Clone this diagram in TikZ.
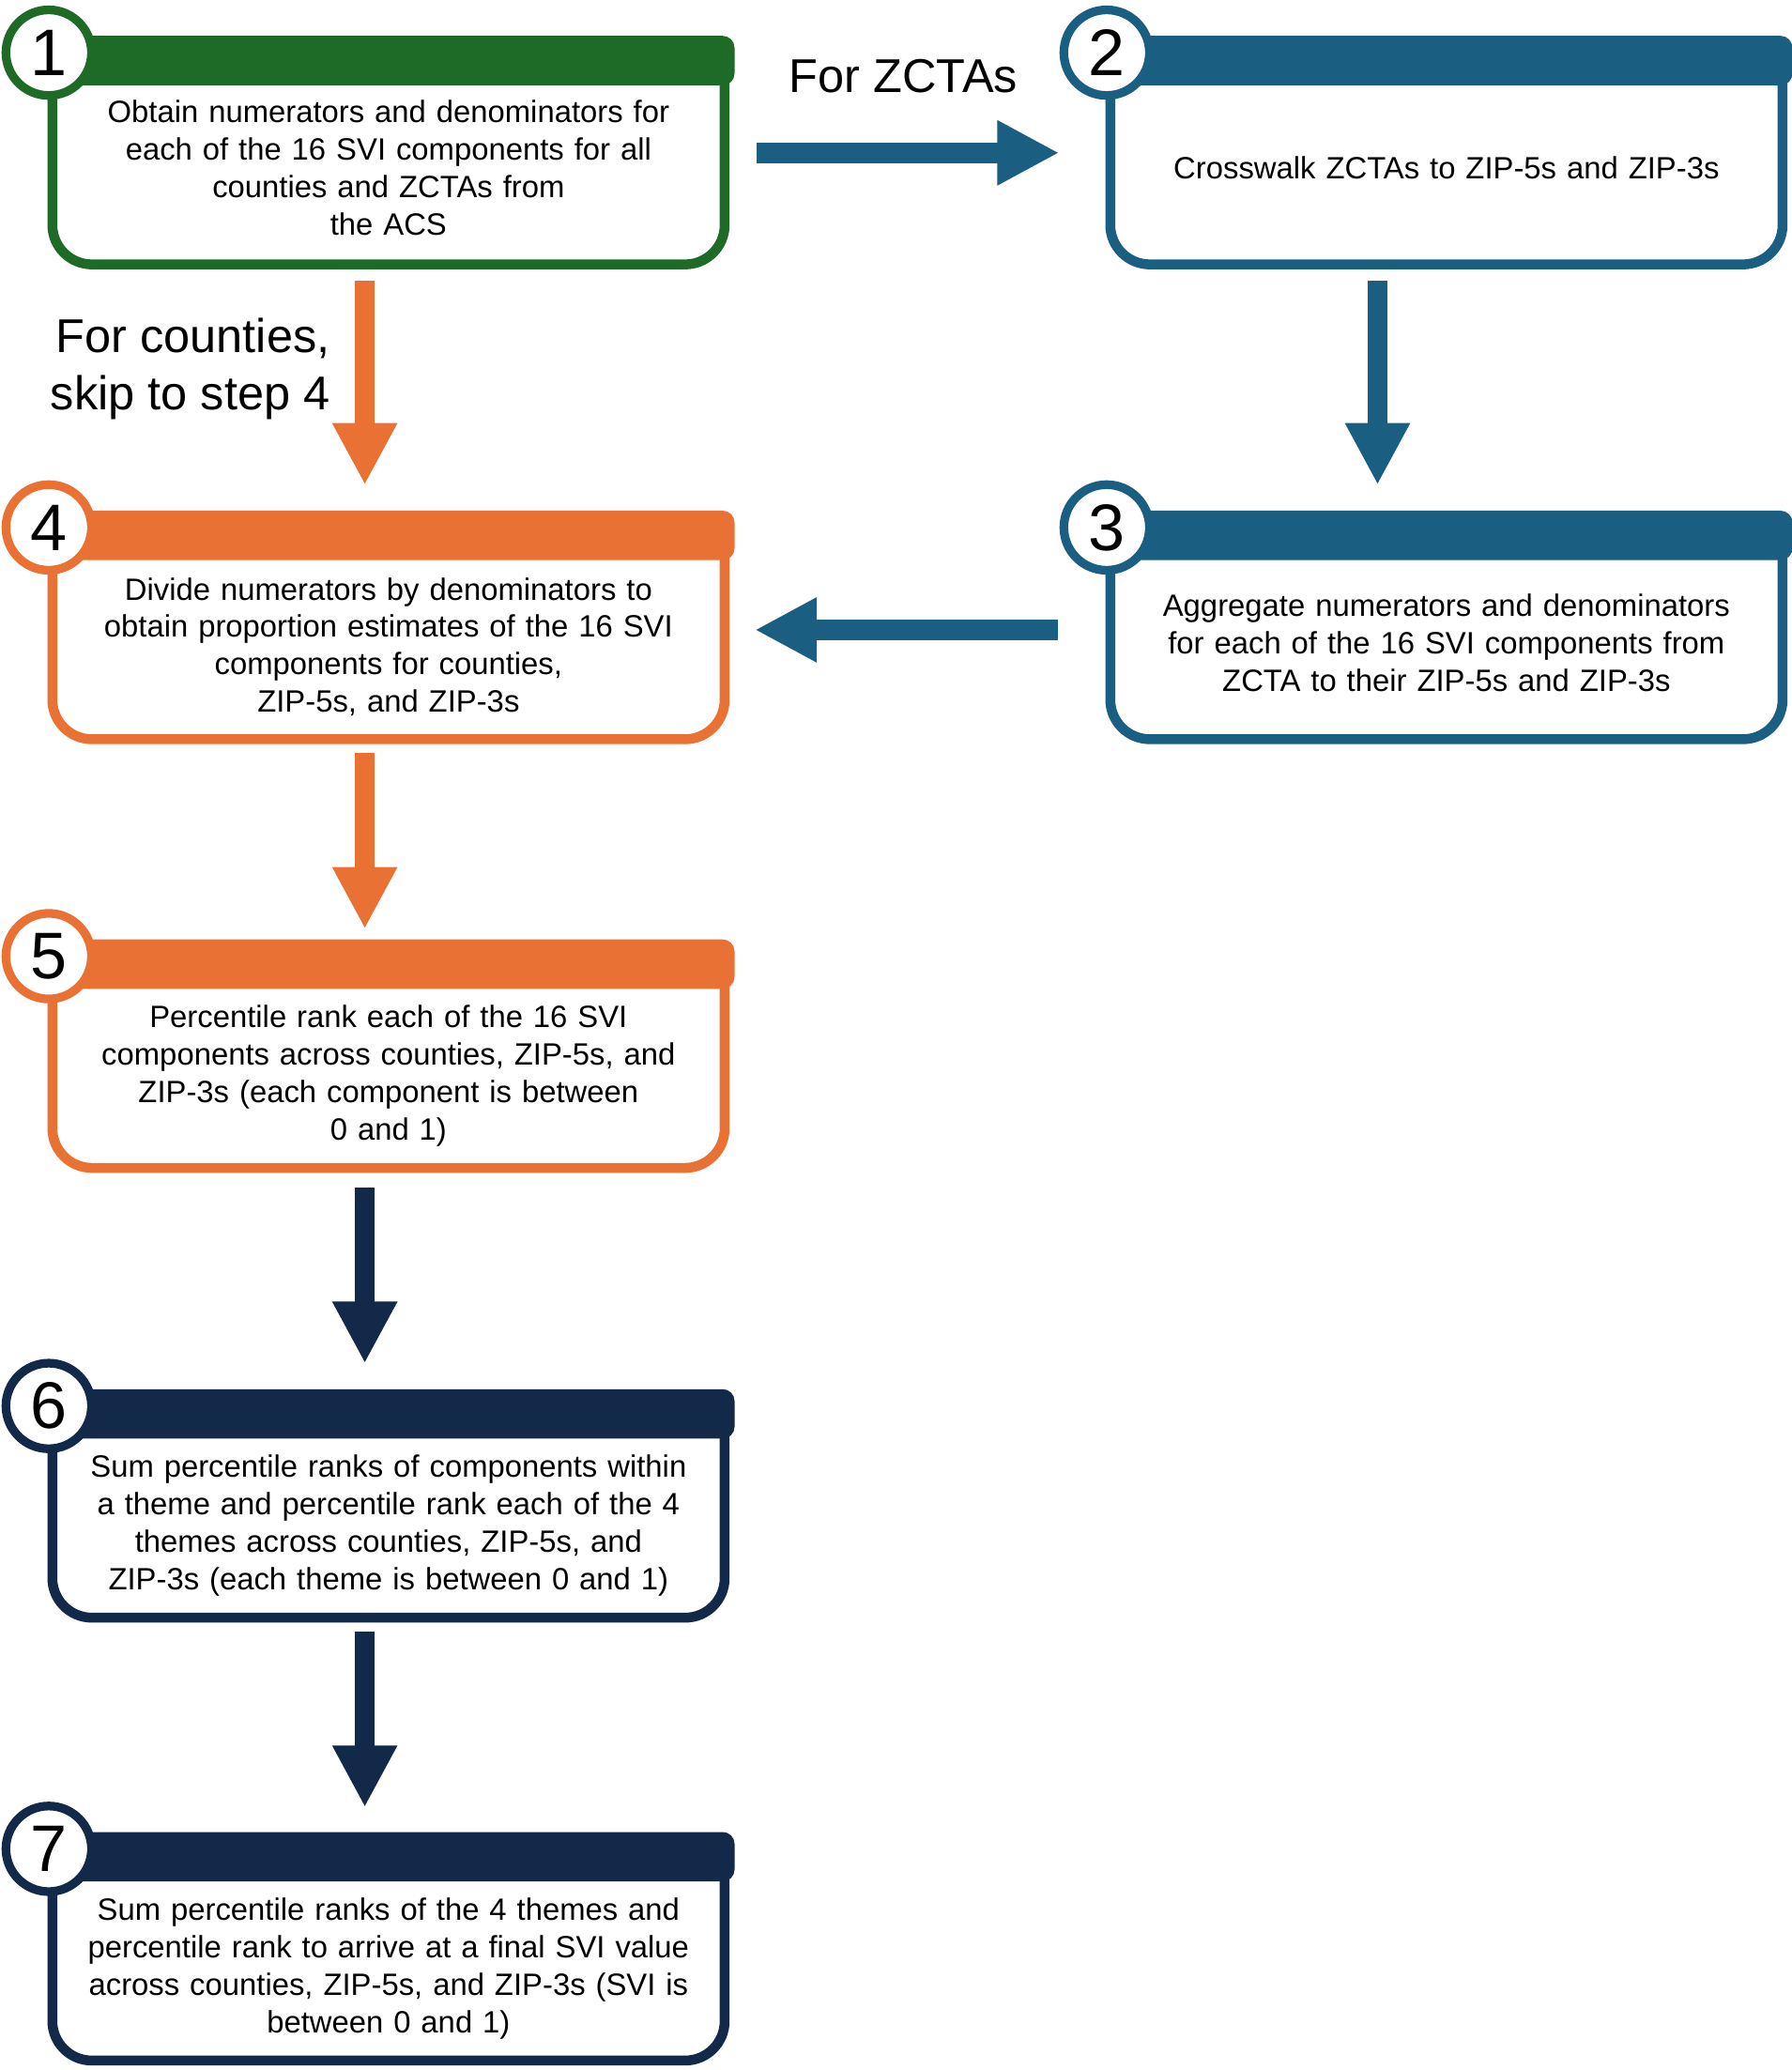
\documentclass[tikz,border=0pt]{standalone}
\usepackage{fontspec}
\setmainfont{Liberation Sans}
\usetikzlibrary{arrows.meta,positioning,calc}

\definecolor{stepgreen}{HTML}{1E6B28}
\definecolor{stepblue}{HTML}{1A5E81}
\definecolor{steporange}{HTML}{E87133}
\definecolor{stepnavy}{HTML}{13294A}

\tikzset{
    stepbox/.style = {draw=#1, fill=white, line width=3.75pt, rounded corners=15pt,
            minimum width=255.25pt, minimum height=83pt, inner sep=0pt},
    stephead/.style = {fill=#1, rounded corners=4.5pt},
    stepnum/.style = {circle, draw=#1, fill=white, line width=3.3pt, minimum size=32.5pt,
            inner sep=0pt, font=\fontsize{25}{25}\selectfont},
    steptext/.style = {align=center, text width=250pt, inner sep=0pt,
            font=\fontsize{11.7}{14.25}\selectfont},
    biglabel/.style = {inner sep=0pt, font=\fontsize{18}{22}\selectfont},
    blockarrow/.style = {draw=#1, line width=7.75pt, -{Triangle[width=23pt,length=23.5pt]}},
}

\begin{document}
\begin{tikzpicture}[x=0.5pt, y=-0.5pt]
    \useasboundingbox (0,0) rectangle (1360,1571.7);

    % boxes
    \node[stepbox=stepgreen]  (s1) at (295,117.75) {};
    \node[stepbox=stepblue]   (s2) at (1098.3,117.75) {};
    \node[stepbox=stepblue]   (s3) at (1098.3,478.25) {};
    \node[stepbox=steporange] (s4) at (295,478.25) {};
    \node[stepbox=steporange] (s5) at (295,803.75) {};
    \node[stepbox=stepnavy]   (s6) at (295,1145.25) {};
    \node[stepbox=stepnavy]   (s7) at (295,1481.5) {};

    % header bands and step numbers
    \foreach \n/\c/\k in {s1/stepgreen/1, s2/stepblue/2, s3/stepblue/3, s4/steporange/4,
            s5/steporange/5, s6/stepnavy/6, s7/stepnavy/7}
        {
            \fill[stephead=\c] ([shift={(-1.875pt,1.875pt)}]\n.north west)
                rectangle ([shift={(1.875pt,-16.9pt)}]\n.north east);
            \node[stepnum=\c] (n\k) at ([shift={(0.5pt,-4.5pt)}]\n.north west) {\k};
        }

    % texts
    \node[steptext] (t1) at ([yshift=-4.75pt]s1.center)
        {Obtain numerators and denominators for\\ each of the 16 SVI components for all\\
         counties and ZCTAs from\\ the ACS};
    \node[steptext] (t2) at ([yshift=-4.75pt]s2.center)
        {Crosswalk ZCTAs to ZIP-5s and ZIP-3s};
    \node[steptext] (t3) at ([yshift=-4.75pt]s3.center)
        {Aggregate numerators and denominators\\ for each of the 16 SVI components from\\
         ZCTA to their ZIP-5s and ZIP-3s};
    \node[steptext] (t4) at ([yshift=-6.5pt]s4.center)
        {Divide numerators by denominators to\\ obtain proportion estimates of the 16 SVI\\
         components for counties,\\ ZIP-5s, and ZIP-3s};
    \node[steptext] (t5) at ([yshift=-6.5pt]s5.center)
        {Percentile rank each of the 16 SVI\\ components across counties, ZIP-5s, and\\
         ZIP-3s (each component is between\\ 0 and 1)};
    \node[steptext] (t6) at ([yshift=-6.5pt]s6.center)
        {Sum percentile ranks of components within\\ a theme and percentile rank each of the 4\\
         themes across counties, ZIP-5s, and\\ ZIP-3s (each theme is between 0 and 1)};
    \node[steptext] (t7) at ([yshift=-6.5pt]s7.center)
        {Sum percentile ranks of the 4 themes and\\ percentile rank to arrive at a final SVI value\\
         across counties, ZIP-5s, and ZIP-3s (SVI is\\ between 0 and 1)};

    % arrows
    \draw[blockarrow=stepblue, shorten <=10.1pt, shorten >=17.5pt]
        ([yshift=0.85pt]s1.east) -- ([yshift=0.85pt]s2.west);
    \draw[blockarrow=stepblue, shorten <=18pt, shorten >=9.6pt]
        (s3.west) -- (s4.east);
    \foreach \a/\b/\c/\dx/\sa/\sb in {s1/s4/steporange/-9/4.15/11.65, s2/s3/stepblue/-26.15/4.15/11.65,
            s4/s5/steporange/-9/3.35/5.85, s5/s6/stepnavy/-9/5.65/11.65, s6/s7/stepnavy/-9/3.35/11.25}
        {
            \draw[blockarrow=\c, shorten <=\sa pt, shorten >=\sb pt]
                ([xshift=\dx pt]\a.south) -- ([xshift=\dx pt]\b.north);
        }

    % labels
    \node[biglabel] (zcta) at (686,58) {For ZCTAs};
    \node[biglabel, align=right, anchor=east] (skip) at (251,280) {For counties,\\ skip to step 4};
\end{tikzpicture}
\end{document}
